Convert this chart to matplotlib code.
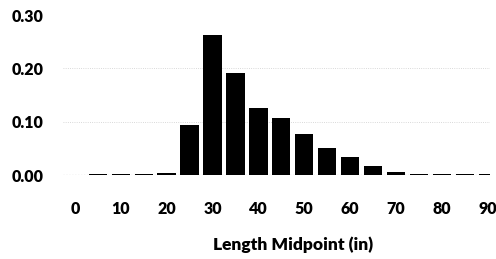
import matplotlib.pyplot as plt

# Length distribution (fraction of fish per 5-inch length bin)
midpoints = [5, 10, 15, 20, 25, 30, 35, 40, 45, 50, 55, 60, 65, 70, 75, 80, 85, 90]
fractions = [0.001, 0.002, 0.002, 0.003, 0.094, 0.262, 0.192, 0.126, 0.106, 0.077,
             0.051, 0.034, 0.017, 0.005, 0.001, 0.001, 0.001, 0.001]
x_ticks = [0, 10, 20, 30, 40, 50, 60, 70, 80, 90]
y_ticks = [0.00, 0.10, 0.20, 0.30]

plt.rcParams['font.family'] = ['Lato', 'DejaVu Sans']

fig = plt.figure(figsize=(4.96, 2.59), dpi=100)
ax = fig.add_axes([63 / 496, 1 - 175 / 259, (490 - 63) / 496, (175 - 15) / 259])

ax.bar(midpoints, fractions, width=4.0, color='black', zorder=3)

# faint dotted gridlines like the scanned original
for y in y_ticks[1:3]:
    ax.axhline(y, color='#cccccc', linestyle=':', linewidth=0.6, zorder=1)
ax.axhline(0, color='#555555', linestyle=':', linewidth=0.8, zorder=2)

ax.set_xlim(-2.6, 90.5)
ax.set_ylim(0, 0.30)
ax.set_xticks(x_ticks)
ax.set_xticklabels([str(t) for t in x_ticks], fontsize=11.5, fontweight='heavy')
ax.set_yticks(y_ticks)
ax.set_yticklabels([f"{t:.2f}" for t in y_ticks], fontsize=11.5, fontweight='heavy')
ax.tick_params(axis='both', length=0)
ax.tick_params(axis='x', pad=19)
ax.tick_params(axis='y', pad=14)

for spine in ax.spines.values():
    spine.set_visible(False)

fig.text(293 / 496, 1 - 245 / 259, "Length Midpoint (in)", ha='center', va='center',
         fontsize=12.5, fontweight='heavy')

fig.savefig('out.png', dpi=100)
